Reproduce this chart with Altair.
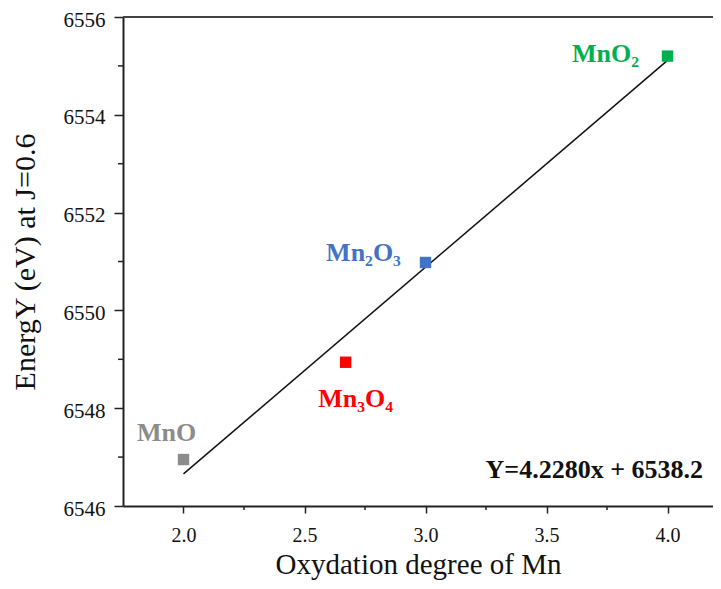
import altair as alt
import pandas as pd

# ---- data ----
compounds = ["MnO", "Mn₃O₄", "Mn₂O₃", "MnO₂"]
oxidation = [2.0, 2.67, 3.0, 4.0]
energy = [6546.95, 6548.94, 6550.98, 6555.20]
colors = ["#8c8c8c", "#ff0000", "#4472c4", "#00b050"]

fit_slope = 4.2280
fit_intercept = 6538.2
fit_x = [2.0, 4.0]

x_major = [2.0, 2.5, 3.0, 3.5, 4.0]
x_minor = [2.25, 2.75, 3.25, 3.75]
y_major = [6546, 6548, 6550, 6552, 6554, 6556]
y_minor = [6547, 6549, 6551, 6553, 6555]

equation_text = "Y=4.2280x + 6538.2"

# ---- layout / style ----
W, H = 590, 489
FONT = "Liberation Serif"
AX = "#222222"
label_offsets = {
    "MnO": (-17, -19),
    "Mn₃O₄": (10, 45),
    "Mn₂O₃": (-62, -1),
    "MnO₂": (-62, 6),
}

pts = pd.DataFrame({"compound": compounds, "ox": oxidation, "en": energy, "col": colors})
fit = pd.DataFrame({"ox": fit_x, "en": [fit_slope * v + fit_intercept for v in fit_x]})
xmin = pd.DataFrame({"ox": x_minor})
ymin = pd.DataFrame({"en": y_minor})
one = pd.DataFrame({"a": [0]})

xs = alt.Scale(domain=[1.75, 1.75 + W / 242.0], nice=False, zero=False)
ys = alt.Scale(domain=[6546, 6556], nice=False, zero=False)

x_axis = alt.Axis(values=x_major, format=".1f", tickSize=7, labelPadding=12,
                  labelFontSize=20, labelFont=FONT, labelColor="#111",
                  title="Oxydation degree of Mn", titleFont=FONT, titleFontSize=29,
                  titleFontWeight="normal", titleColor="#111", titlePadding=5, grid=False)
y_axis = alt.Axis(values=y_major, format="d", tickSize=9, labelPadding=9, labelOffset=3,
                  labelFontSize=21, labelFont=FONT, labelColor="#111",
                  title="EnergY (eV) at J=0.6", titleFont=FONT, titleFontSize=30,
                  titleFontWeight="normal", titleColor="#111", titlePadding=23, grid=False)

X = alt.X("ox:Q", scale=xs, axis=x_axis)
Y = alt.Y("en:Q", scale=ys, axis=y_axis)

line = alt.Chart(fit).mark_line(color="#111", strokeWidth=1.5).encode(x=X, y=Y)

points = alt.Chart(pts).mark_square(size=130, opacity=1).encode(
    x=X, y=Y, color=alt.Color("col:N", scale=None),
)

labels = []
for name, c in zip(compounds, colors):
    dx, dy = label_offsets[name]
    labels.append(
        alt.Chart(pts).transform_filter(alt.datum.compound == name)
        .mark_text(font=FONT, fontSize=26, fontWeight="bold", color=c,
                   align="center", baseline="alphabetic", dx=dx, dy=dy)
        .encode(x=X, y=Y, text="compound:N")
    )

xminor = alt.Chart(xmin).mark_rule(color=AX, strokeWidth=1.5).encode(
    x=X, y=alt.value(H), y2=alt.value(H + 4))
yminor = alt.Chart(ymin).mark_rule(color=AX, strokeWidth=1.5).encode(
    y=Y, x=alt.value(0), x2=alt.value(-5))

top = alt.Chart(one).mark_rule(color="#444", strokeWidth=2).encode(
    x=alt.value(0), x2=alt.value(W), y=alt.value(0))

eq = alt.Chart(one).mark_text(font=FONT, fontSize=26, fontWeight="bold", color="#111",
                              align="right", baseline="alphabetic").encode(
    x=alt.value(580), y=alt.value(461), text=alt.value(equation_text))

chart = alt.layer(line, points, *labels, xminor, yminor, top, eq).properties(
    width=W, height=H,
    padding={"left": 115, "top": 9, "right": 0, "bottom": 75},
    autosize=alt.AutoSizeParams(type="none"),
    background="white",
).configure(font=FONT).configure_view(strokeWidth=0).configure_axis(
    domainColor=AX, domainWidth=2, tickColor=AX, tickWidth=1.5,
    labelFont=FONT, titleFont=FONT
)

chart.save("out.html", embed_options={"renderer": "svg", "actions": False})
